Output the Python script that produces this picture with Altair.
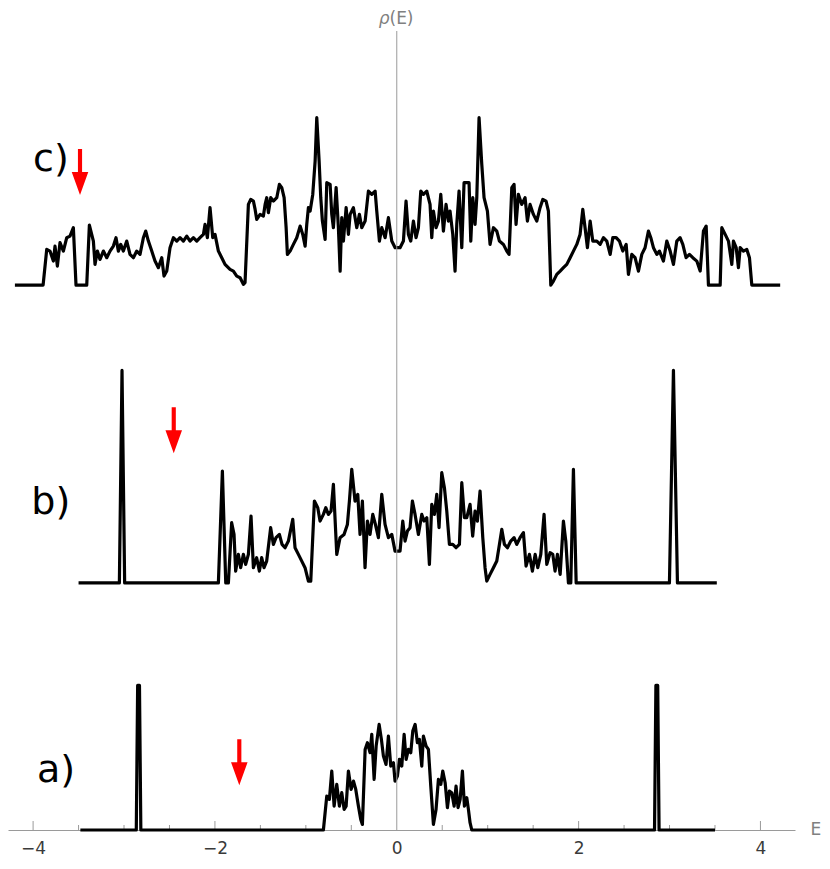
import altair as alt
import pandas as pd

# ---- curve a) ----
a_E = [-3.48, -2.865, -2.85, -2.83, -2.815, -0.807, -0.770, -0.741, -0.715, -0.689,
       -0.660, -0.631, -0.605, -0.579, -0.557, -0.532, -0.502, -0.476, -0.451, -0.422,
       -0.396, -0.378, -0.348, -0.323, -0.294, -0.275, -0.249, -0.227, -0.194, -0.169,
       -0.147, -0.118, -0.092, -0.066, -0.037, -0.019, 0.007, 0.029, 0.055, 0.081,
       0.103, 0.128, 0.154, 0.176, 0.202, 0.227, 0.249, 0.275, 0.293, 0.323,
       0.348, 0.374, 0.403, 0.432, 0.458, 0.484, 0.506, 0.532, 0.557, 0.579,
       0.605, 0.631, 0.652, 0.674, 0.697, 0.722, 0.744, 0.770, 0.788, 0.806,
       0.825, 2.835, 2.85, 2.87, 2.885, 3.50]
a_rho = [0, 0, 1.446, 1.446, 0, 0, 0.339, 0.306, 0.589, 0.239,
         0.456, 0.239, 0.373, 0.206, 0.239, 0.589, 0.406, 0.489, 0.406, 0.239,
         0.106, 0.056, 0.806, 0.873, 0.773, 0.956, 0.506, 0.839, 1.056, 0.906,
         0.739, 0.656, 0.939, 0.639, 0.673, 0.489, 0.539, 0.706, 0.639, 0.956,
         0.706, 0.806, 0.773, 0.989, 1.056, 0.873, 0.906, 0.639, 0.939, 0.839,
         0.806, 0.439, 0.056, 0.206, 0.506, 0.456, 0.589, 0.473, 0.223, 0.389,
         0.373, 0.239, 0.439, 0.223, 0.306, 0.589, 0.239, 0.323, 0.206, 0.073,
         0, 0, 1.446, 1.446, 0, 0]

# ---- curve b) ----
b_E = [-3.50, -3.051, -3.022, -2.993, -1.962, -1.918, -1.881, -1.852, -1.816, -1.790,
       -1.772, -1.742, -1.717, -1.687, -1.662, -1.632, -1.603, -1.577, -1.541, -1.511,
       -1.486, -1.460, -1.431, -1.387, -1.357, -1.328, -1.291, -1.262, -1.229, -1.192,
       -1.144, -1.119, -1.082, -1.045, -1.009, -0.972, -0.946, -0.906, -0.869, -0.844,
       -0.807, -0.781, -0.752, -0.723, -0.697, -0.660, -0.624, -0.580, -0.543, -0.521,
       -0.495, -0.459, -0.429, -0.404, -0.378, -0.349, -0.323, -0.294, -0.264, -0.235,
       -0.202, -0.165, -0.129, -0.092, -0.055, -0.019,
       0.036, 0.066, 0.091, 0.117, 0.146, 0.172, 0.201, 0.238, 0.275, 0.300,
       0.330, 0.359, 0.385, 0.414, 0.440, 0.465, 0.495, 0.524, 0.550, 0.579,
       0.616, 0.652, 0.689, 0.715, 0.744, 0.770, 0.806, 0.835, 0.861, 0.887,
       0.916, 0.946, 0.971, 0.990, 1.026, 1.063, 1.100, 1.129, 1.155, 1.184,
       1.217, 1.254, 1.290, 1.320, 1.356, 1.393, 1.422, 1.459, 1.492, 1.522,
       1.551, 1.584, 1.620, 1.650, 1.686, 1.716, 1.741, 1.767, 1.797, 1.833,
       1.859, 1.888, 1.914, 1.943, 1.973, 2.999, 3.043, 3.087, 3.520]
b_rho = [0, 0, 2.125, 0, 0, 1.118, 0, 0, 0.602, 0.485,
         0.118, 0.285, 0.152, 0.285, 0.185, 0.285, 0.668, 0.152, 0.252, 0.118,
         0.252, 0.152, 0.218, 0.552, 0.385, 0.452, 0.485, 0.385, 0.352, 0.418,
         0.635, 0.352, 0.285, 0.218, 0.152, 0.018, 0.018, 0.818, 0.752, 0.618,
         0.685, 0.752, 0.685, 0.718, 0.985, 0.285, 0.452, 0.485, 0.585, 0.818,
         1.135, 0.818, 0.885, 0.485, 0.818, 0.152, 0.618, 0.485, 0.685, 0.585,
         0.452, 0.885, 0.585, 0.452, 0.485, 0.318,
         0.318, 0.618, 0.418, 0.518, 0.552, 0.818, 0.685, 0.485, 0.685, 0.618,
         0.652, 0.185, 0.785, 0.685, 0.885, 0.552, 1.102, 0.952, 0.718, 0.385,
         0.385, 0.352, 0.385, 1.002, 0.652, 0.652, 0.785, 0.468, 0.718, 0.618,
         0.918, 0.452, 0.152, 0.018, 0.085, 0.152, 0.218, 0.385, 0.535, 0.385,
         0.352, 0.418, 0.452, 0.385, 0.452, 0.502, 0.168, 0.285, 0.118, 0.285,
         0.152, 0.285, 0.685, 0.185, 0.302, 0.285, 0.118, 0.285, 0.085, 0.618,
         0.418, 0, 0, 1.135, 0, 0, 2.125, 0, 0]

# ---- curve c) ----
c_E = [-4.20, -3.89, -3.85, -3.814, -3.777, -3.759, -3.733, -3.704, -3.667, -3.630,
       -3.594, -3.557, -3.528, -3.410, -3.381, -3.337, -3.319, -3.293, -3.264, -3.227,
       -3.190, -3.154, -3.117, -3.088, -3.062, -3.036, -3.007, -2.970, -2.934, -2.897,
       -2.860, -2.824, -2.787, -2.761, -2.732, -2.695, -2.659, -2.622, -2.585, -2.560,
       -2.530, -2.494, -2.457, -2.420, -2.384, -2.347, -2.310, -2.274, -2.237, -2.200,
       -2.164, -2.127, -2.109, -2.083, -2.054, -2.024, -1.999, -1.962, -1.925, -1.889,
       -1.834, -1.797, -1.760, -1.723, -1.687, -1.669, -1.632, -1.606, -1.577, -1.558,
       -1.540, -1.503, -1.467, -1.448, -1.430, -1.412, -1.386, -1.357, -1.320, -1.291,
       -1.265, -1.239, -1.217, -1.203, -1.173, -1.137, -1.100, -1.063, -1.034, -1.008,
       -0.990, -0.972, -0.953, -0.924, -0.898, -0.880, -0.854, -0.836, -0.818, -0.788,
       -0.770, -0.733, -0.715, -0.697, -0.667, -0.642, -0.623, -0.605, -0.587, -0.557,
       -0.532, -0.513, -0.477, -0.440, -0.411, -0.385, -0.348, -0.312, -0.275, -0.238,
       -0.220, -0.191, -0.165, -0.128, -0.092, -0.055, -0.018,
       0.036, 0.073, 0.102, 0.128, 0.154, 0.183, 0.212, 0.238, 0.264, 0.293,
       0.330, 0.366, 0.385, 0.403, 0.432, 0.458, 0.484, 0.513, 0.542, 0.568,
       0.586, 0.616, 0.641, 0.660, 0.685, 0.715, 0.740, 0.770, 0.795, 0.814,
       0.836, 0.861, 0.880, 0.905, 0.935, 0.960, 0.997, 1.026, 1.063, 1.100,
       1.129, 1.173, 1.210, 1.235, 1.265, 1.290, 1.312, 1.338, 1.375, 1.411,
       1.437, 1.466, 1.503, 1.540, 1.576, 1.606, 1.642, 1.668, 1.694, 1.723,
       1.760, 1.797, 1.833, 1.870, 1.907, 1.943, 1.980, 2.016, 2.046, 2.071,
       2.097, 2.127, 2.156, 2.200, 2.237, 2.273, 2.310, 2.347, 2.376, 2.413,
       2.449, 2.486, 2.523, 2.548, 2.585, 2.621, 2.658, 2.695, 2.731, 2.768,
       2.794, 2.823, 2.860, 2.889, 2.933, 2.970, 3.007, 3.043, 3.080, 3.116,
       3.146, 3.182, 3.219, 3.256, 3.300, 3.337, 3.373, 3.403, 3.428, 3.557,
       3.575, 3.612, 3.648, 3.685, 3.703, 3.733, 3.758, 3.777, 3.813, 3.850,
       3.879, 3.905, 4.217]
c_rho = [0, 0, 0.357, 0.340, 0.240, 0.390, 0.190, 0.424, 0.340, 0.474,
         0.490, 0.574, 0, 0, 0.600, 0.440, 0.207, 0.340, 0.257, 0.340,
         0.274, 0.340, 0.390, 0.474, 0.340, 0.407, 0.340, 0.440, 0.307, 0.274,
         0.340, 0.307, 0.474, 0.540, 0.440, 0.340, 0.240, 0.174, 0.274, 0.090,
         0.140, 0.374, 0.474, 0.440, 0.474, 0.440, 0.490, 0.440, 0.474, 0.440,
         0.474, 0.507, 0.607, 0.474, 0.774, 0.474, 0.507, 0.340, 0.274, 0.207,
         0.157, 0.140, 0.090, 0.074, 0.007, 0.024, 0.807, 0.857, 0.840, 0.757,
         0.657, 0.707, 0.690, 0.807, 0.874, 0.724, 0.874, 0.840, 0.874, 1.007,
         0.974, 0.874, 0.574, 0.307, 0.340, 0.407, 0.474, 0.590, 0.507, 0.390,
         0.607, 0.774, 0.740, 0.907, 1.240, 1.674, 1.240, 0.874, 0.640, 0.457,
         1.024, 1.007, 0.707, 0.574, 0.974, 0.574, 0.140, 0.674, 0.440, 0.774,
         0.507, 0.707, 0.774, 0.574, 0.707, 0.574, 0.640, 0.940, 0.907, 0.940,
         0.740, 0.440, 0.574, 0.474, 0.674, 0.440, 0.374,
         0.374, 0.440, 0.840, 0.507, 0.440, 0.640, 0.474, 0.574, 0.940, 0.907,
         0.940, 0.807, 0.474, 0.740, 0.574, 0.640, 0.907, 0.540, 0.807, 0.640,
         0.740, 0.507, 0.140, 0.607, 0.940, 0.374, 1.024, 1.024, 1.024, 0.440,
         0.874, 0.607, 0.874, 1.674, 1.207, 0.874, 0.740, 0.407, 0.574, 0.540,
         0.440, 0.407, 0.340, 0.307, 0.974, 1.007, 0.607, 0.907, 0.807, 0.874,
         0.640, 0.807, 0.707, 0.640, 0.774, 0.857, 0.840, 0.740, 0.0, 0.040,
         0.107, 0.140, 0.174, 0.207, 0.274, 0.340, 0.407, 0.507, 0.757, 0.574,
         0.374, 0.640, 0.440, 0.440, 0.407, 0.474, 0.440, 0.307, 0.474, 0.474,
         0.440, 0.340, 0.407, 0.107, 0.307, 0.274, 0.140, 0.307, 0.374, 0.540,
         0.474, 0.374, 0.307, 0.340, 0.240, 0.440, 0.340, 0.207, 0.440, 0.474,
         0.407, 0.274, 0.307, 0.274, 0.240, 0.140, 0.540, 0.590, 0.0, 0.0,
         0.574, 0.507, 0.440, 0.207, 0.440, 0.374, 0.174, 0.374, 0.340, 0.357,
         0.274, 0.0, 0.0]

# vertical offsets of the three stacked spectra
offsets = {"a": 0.0, "b": 2.471, "c": 5.449}

# panel labels and arrow markers
label_text = ["a)", "b)", "c)"]
label_E = [-3.957, -4.02, -4.00]
label_y = [0.589, 3.266, 6.698]
arrow_E = [-1.732, -2.453, -3.484]
arrow_y = [0.677, 3.997, 6.581]

tick_labels = [-4, -2, 0, 2, 4]
major_ticks = [-4, -2, 2, 4]
minor_ticks = [-3.5, -3, -2.5, -1.5, -1, -0.5, 0.5, 1, 1.5, 2.5, 3, 3.5]
Y_TOP = 8.08

rows = []
for name, E, rho in (("a", a_E, a_rho), ("b", b_E, b_rho), ("c", c_E, c_rho)):
    for i, (e, r) in enumerate(zip(E, rho)):
        rows.append({"series": name, "E": e, "y": r + offsets[name], "i": i})
df = pd.DataFrame(rows)

xscale = alt.Scale(domain=[-4.276, 4.38], nice=False, zero=False)
yscale = alt.Scale(domain=[0, Y_TOP], nice=False, zero=False)
FONT = "DejaVu Sans"
GRAY = "#9a9a9a"

x_axis = alt.Axis(
    values=tick_labels, ticks=False, tickSize=0, domain=True, domainColor=GRAY,
    domainWidth=1, labelFont=FONT, labelFontSize=17, labelColor="#3a3a3a",
    labelPadding=10, grid=False, title=None, labelFlush=False)


def X(field):
    return alt.X(field, scale=xscale, axis=x_axis)


def Y(field):
    return alt.Y(field, scale=yscale, axis=None)


lines = alt.Chart(df).mark_line(color="black", strokeWidth=3.2, strokeJoin="round").encode(
    x=X("E:Q"),
    y=Y("y:Q"),
    detail="series:N",
    order="i:Q",
)

tick_df = pd.DataFrame({
    "t": major_ticks + minor_ticks,
    "y0": [0.0] * (len(major_ticks) + len(minor_ticks)),
    "y1": [0.09] * len(major_ticks) + [0.05] * len(minor_ticks),
})
ticks = alt.Chart(tick_df).mark_rule(color=GRAY, strokeWidth=1).encode(
    x=X("t:Q"), y=Y("y0:Q"), y2="y1:Q")

vaxis_df = pd.DataFrame({"x": [0.0], "y0": [0.0], "y1": [7.99]})
vaxis = alt.Chart(vaxis_df).mark_rule(color=GRAY, strokeWidth=1).encode(
    x=X("x:Q"), y=Y("y0:Q"), y2="y1:Q")

lab_df = pd.DataFrame({"E": label_E, "y": label_y, "t": label_text})
labels = alt.Chart(lab_df).mark_text(align="left", baseline="middle", font=FONT,
                                      fontSize=38, color="black").encode(
    x=X("E:Q"), y=Y("y:Q"), text="t:N")

arr_df = pd.DataFrame({"E": arrow_E, "y": arrow_y})
arrow_shape = "M-0.09,-1L0.09,-1L0.09,0L0.36,0L0,1L-0.36,0L-0.09,0Z"
arrows = alt.Chart(arr_df).mark_point(shape=arrow_shape, filled=True, size=2116,
                                      color="#ff0000", opacity=1).encode(
    x=X("E:Q"), y=Y("y:Q"))

# axis label rho(E): italic rho followed by upright (E)
rho_df = pd.DataFrame({"E": [-0.08], "y": [8.115], "t": ["ρ"]})
rho_lab = alt.Chart(rho_df).mark_text(align="right", baseline="middle", font=FONT,
                                      fontSize=17, fontStyle="italic", color="#808080").encode(
    x=X("E:Q"), y=Y("y:Q"), text="t:N")
rho_df2 = pd.DataFrame({"E": [-0.08], "y": [8.115], "t": ["(E)"]})
rho_lab2 = alt.Chart(rho_df2).mark_text(align="left", baseline="middle", font=FONT,
                                        fontSize=17, color="#808080").encode(
    x=X("E:Q"), y=Y("y:Q"), text="t:N")

e_df = pd.DataFrame({"E": [4.55], "y": [0.0], "t": ["E"]})
e_lab = alt.Chart(e_df).mark_text(align="left", baseline="middle",
                                  font=FONT, fontSize=17, color="#808080").encode(
    x=X("E:Q"), y=Y("y:Q"), text="t:N")

chart = alt.layer(ticks, lines, vaxis, labels, arrows, rho_lab, rho_lab2, e_lab).properties(
    width=787, height=808,
    padding={"left": 0, "top": 14, "right": 27, "bottom": 30},
    autosize=alt.AutoSizeParams(type="none"),
).configure_view(stroke=None)

chart.save("out.html", embed_options={"renderer": "svg", "actions": False})
